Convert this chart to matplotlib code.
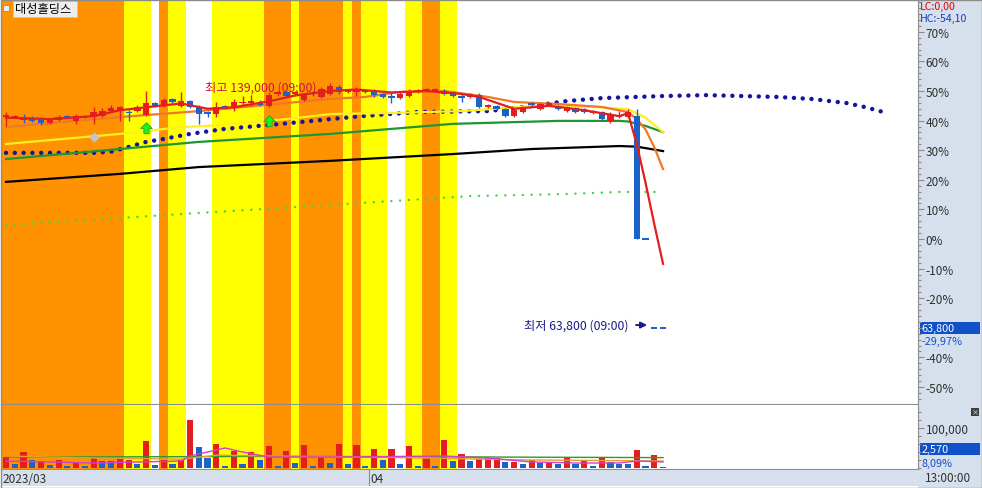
import numpy as np
import matplotlib
matplotlib.use("Agg")
import matplotlib.pyplot as plt
from matplotlib.patches import Rectangle
from matplotlib.ticker import MultipleLocator
from matplotlib.transforms import blended_transform_factory

plt.rcParams['font.family'] = ['Noto Sans CJK KR', 'DejaVu Sans']

# ---- data (percent vs. base price 91,100) ----
stock_name = "대성홀딩스"
high_price, high_idx = 139000, 37
low_price, low_idx = 63800, 74
low_pct = -29.97

c_open = [41.2, 41.2, 41.2, 40.9, 40.5, 39.2, 40.2, 41.4, 39.9, 41.6,
          41.2, 41.6, 43.2, 43.2, 42.9, 43.2, 41.9, 45.9, 44.9, 47.3,
          44.9, 46.6, 44.6, 42.7, 42.2, 44.8, 44.6, 45.9, 46.1, 46.3,
          44.9, 49.2, 49.7, 49.2, 47.0, 49.3, 48.0, 49.0, 51.4, 49.8,
          49.8, 50.0, 50.0, 49.0, 48.1, 47.6, 48.3, 49.8, 50.2, 50.2,
          50.0, 49.7, 48.1, 48.0, 48.6, 44.8, 44.9, 43.9, 41.6, 42.9,
          45.8, 43.9, 45.5, 44.9, 43.2, 44.3, 43.9, 42.7, 42.9, 39.9,
          41.4, 41.2, 41.6, 0.0, -29.97, -29.97]
c_close = [41.9, 41.6, 40.2, 39.9, 39.2, 40.5, 41.2, 41.0, 41.6, 41.2,
           42.9, 43.2, 44.4, 44.6, 42.6, 44.6, 45.9, 44.9, 47.0, 46.3,
           46.6, 44.6, 42.2, 42.4, 44.6, 44.4, 46.3, 46.3, 46.5, 45.3,
           48.6, 49.5, 48.3, 49.5, 48.6, 49.0, 50.7, 51.7, 49.7, 50.2,
           50.2, 49.7, 48.6, 48.0, 47.8, 49.0, 50.0, 50.2, 50.5, 50.5,
           49.0, 48.3, 47.8, 49.0, 44.6, 45.1, 43.9, 41.6, 43.6, 44.6,
           45.4, 45.6, 45.8, 43.9, 44.6, 42.9, 42.9, 43.1, 40.5, 42.2,
           41.7, 42.9, 0.0, 0.0, -29.97, -29.97]
c_high = [42.9, 41.9, 42.2, 41.6, 41.2, 40.9, 41.9, 41.9, 42.2, 41.9,
          44.6, 44.3, 45.3, 44.9, 43.6, 45.3, 50.0, 46.3, 47.6, 47.6,
          49.7, 47.0, 45.3, 43.2, 46.3, 45.3, 47.3, 48.3, 48.6, 47.0,
          49.7, 50.0, 50.0, 50.0, 49.3, 50.0, 51.4, 52.6, 52.0, 50.7,
          51.4, 50.3, 50.7, 49.3, 49.3, 49.7, 50.7, 50.7, 51.0, 51.0,
          50.7, 50.0, 49.0, 49.3, 49.3, 45.6, 45.3, 44.3, 43.9, 44.9,
          46.3, 45.9, 46.3, 45.3, 44.9, 44.6, 44.3, 43.6, 43.2, 42.9,
          43.2, 43.9, 43.9, 0.0, -29.97, -29.97]
c_low = [38.2, 40.9, 39.2, 39.5, 38.5, 38.9, 39.9, 40.9, 38.9, 40.9,
         38.9, 41.2, 42.9, 39.9, 39.9, 42.9, 41.6, 44.6, 44.6, 45.9,
         44.6, 44.3, 38.9, 41.2, 41.2, 43.9, 43.2, 44.9, 44.9, 44.9,
         44.6, 48.3, 48.0, 48.3, 46.6, 48.3, 47.6, 48.6, 49.0, 49.3,
         48.3, 49.3, 48.0, 47.6, 45.9, 47.3, 48.0, 49.3, 49.7, 49.7,
         48.6, 48.0, 46.3, 47.6, 44.3, 44.3, 43.6, 41.2, 41.2, 42.6,
         44.6, 43.6, 44.9, 43.6, 42.9, 42.6, 42.6, 42.2, 40.2, 39.2,
         40.9, 40.9, 0.0, 0.0, -29.97, -29.97]

volume = [27500, 10000, 40000, 20000, 17500, 7500, 20000, 5000, 15000, 5000,
          25000, 17500, 17500, 25000, 20000, 10000, 67500, 7500, 20000, 10000,
          20000, 120000, 52500, 25000, 60000, 5000, 42500, 10000, 40000, 20000,
          55000, 5000, 42500, 12500, 57500, 5000, 30000, 12500, 60000, 10000,
          57500, 5000, 47500, 20000, 47500, 10000, 55000, 5000, 25000, 5000,
          70000, 17500, 35000, 17500, 22500, 25000, 25000, 15000, 15000, 10000,
          20000, 12500, 12500, 10000, 25000, 10000, 20000, 5000, 25000, 15000,
          10000, 10000, 45000, 5000, 32500, 2570]
vol_dir = "rbrbrbrbrb" "rbbrrbrbrb" "rrbbrbrbrb" "rbrbrbrbrb" "rbrbrbrbrb" \
          "rbrbrrrbrb" "rbrbrbrbrb" "bbrbrb"

# background signal bands (candle index edges)
band_edges = [-0.5, 13.5, 16.5, 17.5, 18.5, 20.5, 23.5, 29.5, 32.5, 33.5,
              38.5, 39.5, 40.5, 43.5, 45.5, 47.5, 49.5, 51.5]
band_kind = "oywoywyoyoyoywyoy"

# indicator lines (index, percent)
ma_red_x = [0, 5, 10, 13, 16, 20, 23, 26, 30, 33, 37, 40, 44, 48, 52, 54, 56, 58, 62, 66, 70, 71, 72, 73, 74, 75]
ma_red_y = [41.0, 40.5, 41.5, 43.5, 44.5, 45.8, 44.0, 44.5, 46.5, 48.5, 50.0, 50.5, 49.5, 50.0, 49.0, 48.0, 46.0, 44.0, 45.0, 43.5, 41.5, 42.5, 32.0, 19.0, 5.0, -8.4]
ma_orange_x = [0, 13, 22, 37, 41, 45, 50, 55, 58, 63, 68, 71, 72, 73, 74, 75]
ma_orange_y = [37.8, 41.2, 43.2, 47.3, 48.0, 49.7, 50.0, 48.0, 46.3, 45.6, 44.6, 42.9, 40.5, 37.0, 31.0, 23.6]
ma_yellow_x = [0, 13, 20, 23, 32, 37, 44, 52, 60, 67, 71, 73, 75]
ma_yellow_y = [32.1, 35.5, 37.8, 38.2, 40.5, 42.2, 42.6, 43.2, 44.9, 44.6, 43.9, 41.0, 36.1]
ma_green_x = [0, 13, 22, 37, 51, 63, 70, 71, 73, 75]
ma_green_y = [27.0, 30.4, 32.8, 35.5, 38.9, 39.9, 39.9, 39.7, 38.2, 36.1]
ma_black_x = [0, 13, 22, 37, 51, 60, 70, 72, 75]
ma_black_y = [19.3, 22.0, 24.3, 26.4, 28.7, 30.4, 31.4, 31.2, 29.7]
span_x = [0, 10, 12, 14, 16, 18, 21, 25, 30, 35, 37, 41, 47, 55, 60, 64, 68, 72, 75, 80, 88, 92, 96, 98, 100]
span_y = [29.1, 29.1, 29.5, 31.1, 32.8, 33.8, 35.5, 37.2, 38.5, 39.9, 40.5, 41.6, 42.9, 43.2, 44.9, 46.6, 47.6, 48.0, 48.3, 48.6, 48.0, 47.3, 45.9, 44.6, 43.0]
lag_x = [0, 13, 22, 37, 53, 64, 70, 75]
lag_y = [4.7, 7.1, 8.8, 11.5, 14.5, 15.2, 15.9, 15.9]

gray_sig_x, gray_sig_y = [10], [34.5]
buy_sig_x, buy_sig_y = [16, 30], [37.5, 39.9]

vma_green_x = [0, 15, 30, 45, 60, 75]
vma_green_y = [27500, 28000, 29000, 28500, 27000, 26000]
vma_orange_x = [0, 10, 20, 24, 30, 45, 60, 75]
vma_orange_y = [30000, 25000, 22000, 32000, 30000, 26000, 20000, 17500]
vma_mag_x = [0, 5, 10, 15, 20, 21, 23, 25, 27, 30, 40, 50, 55, 60, 65, 70, 72, 75]
vma_mag_y = [17500, 15000, 12500, 15000, 17500, 30000, 40000, 50000, 40000, 27500, 27500, 30000, 25000, 15000, 12500, 12500, 17500, 15000]

# ---- style ----
RED, BLUE = '#E41E1E', '#1C62C8'
ORANGE_BG, YELLOW_BG = '#FF9200', '#FFFF00'
PANEL = '#D6E0EC'
GRID = '#8C8C8C'
W, H = 982, 489


def rect(x0, y0, x1, y1):
    return [x0 / W, 1 - y1 / H, (x1 - x0) / W, (y1 - y0) / H]


fig = plt.figure(figsize=(W / 100, H / 100), dpi=100)
fig.add_artist(Rectangle((918 / W, 0), 64 / W, 1, transform=fig.transFigure,
                         facecolor=PANEL, edgecolor='none', zorder=0))

ax = fig.add_axes(rect(2, 1, 918, 405))
axv = fig.add_axes(rect(2, 406, 918, 470), sharex=ax)
axd = fig.add_axes(rect(2, 471, 918, 487), sharex=ax)

ax.set_xlim(-0.457, 104.1)
ax.set_ylim(-55.74, 80.74)
axv.set_ylim(-2500, 157500)

for a in (ax, axv):
    for e0, e1, k in zip(band_edges[:-1], band_edges[1:], band_kind):
        if k != 'w':
            a.axvspan(e0, e1, color=ORANGE_BG if k == 'o' else YELLOW_BG, lw=0, zorder=0)

# candles
idx = np.arange(len(c_close))
o, c = np.array(c_open), np.array(c_close)
prev = np.concatenate([[c[0]], c[:-1]])
cols = [RED if (ci > oi or (ci == oi and ci > pi)) else BLUE for oi, ci, pi in zip(o, c, prev)]
body_h = np.maximum(np.abs(c - o), 0.6)
body_b = np.where(np.abs(c - o) < 0.6, (o + c) / 2 - 0.3, np.minimum(o, c))
ax.vlines(idx, c_low, c_high, colors=cols, lw=1, zorder=4)
ax.bar(idx, body_h, bottom=body_b, width=0.72, color=cols, lw=0, zorder=5)

# indicator lines
ax.plot(lag_x, lag_y, color='#44D444', lw=1.8, ls=(0, (0.01, 3.5)), dash_capstyle='round', zorder=2)
ax.plot(span_x, span_y, color='#14149E', lw=3.2, ls=(0, (0.01, 1.97)), dash_capstyle='round', zorder=3)
ax.plot(ma_black_x, ma_black_y, color='black', lw=1.6, zorder=3)
ax.plot(ma_green_x, ma_green_y, color='#1E9632', lw=1.6, zorder=3)
ax.plot(ma_yellow_x, ma_yellow_y, color='#FFF020', lw=1.6, zorder=3)
ax.plot(ma_orange_x, ma_orange_y, color='#F07828', lw=1.6, zorder=3)
ax.plot(ma_red_x, ma_red_y, color=RED, lw=1.6, zorder=6)

arrow = [(0, 1), (-1, 0), (-0.45, 0), (-0.45, -0.9), (0.45, -0.9), (0.45, 0), (1, 0), (0, 1)]
ax.scatter(buy_sig_x, buy_sig_y, marker=arrow, s=70, color='#22EE22', edgecolor='#10A010', lw=0.5, zorder=6)
ax.scatter(gray_sig_x, gray_sig_y, marker='D', s=28, color='#C4C4C4', lw=0, zorder=6)

# high / low notes
ax.text(high_idx - 14.3, c_high[high_idx] - 1.25, f"최고 {high_price:,} (09:00)",
        color='#D0103A', fontsize=8.8, va='center', ha='left', zorder=7)
ax.text(71.0, low_pct + 0.9, f"최저 {low_price:,} (09:00)", color='#1A1A8C',
        fontsize=8.8, va='center', ha='right', zorder=7)
ax.annotate('', xy=(73.5, low_pct + 0.9), xytext=(71.6, low_pct + 0.9),
            arrowprops=dict(arrowstyle='-|>', color='#1A1A8C', lw=1.4, mutation_scale=9), zorder=7)

# price scale (the -30% label sits under the current-price box, so it is left blank)
ax.yaxis.tick_right()
pct_ticks = list(range(-50, 71, 10))
ax.set_yticks(pct_ticks)
ax.set_yticklabels(["" if t == -30 else f"{t}%" for t in pct_ticks])
ax.yaxis.set_minor_locator(MultipleLocator(2))
ax.tick_params(axis='y', which='major', direction='out', length=4, width=0.8, color=GRID,
               labelsize=8.5, labelcolor='#303030', pad=1.5)
ax.tick_params(axis='y', which='minor', direction='out', length=2, width=0.8, color=GRID)
ax.tick_params(axis='x', which='both', bottom=False, labelbottom=False)
for s in ('top', 'left'):
    ax.spines[s].set_visible(False)
ax.spines['right'].set_color(GRID)
ax.spines['bottom'].set_color(GRID)

tr = blended_transform_factory(ax.transAxes, ax.transData)
ax.add_patch(Rectangle((1.002, low_pct - 2.0), 0.0655, 4.0, transform=tr, facecolor='#1050C8',
                       edgecolor='none', clip_on=False))
ax.text(1.004, low_pct, f"{low_price:,}", transform=tr, color='white', fontsize=7.8, va='center')
ax.text(1.004, low_pct - 4.5, "-29,97%", transform=tr, color='#1050C8', fontsize=7.8, va='center')

# volume panel
vcols = [RED if d == 'r' else BLUE for d in vol_dir]
axv.bar(idx, volume, width=0.7, color=vcols, lw=0, zorder=3)
axv.plot(vma_green_x, vma_green_y, color='#2E9A2E', lw=1, zorder=4)
axv.plot(vma_orange_x, vma_orange_y, color='#E8A020', lw=1, zorder=4)
axv.plot(vma_mag_x, vma_mag_y, color='#D040D0', lw=1, zorder=4)
axv.yaxis.tick_right()
axv.set_yticks([100000])
axv.set_yticklabels(["100,000"])
axv.yaxis.set_minor_locator(MultipleLocator(20000))
axv.tick_params(axis='y', which='major', direction='out', length=4, width=0.8, color=GRID,
                labelsize=8.5, labelcolor='#303030', pad=1.5)
axv.tick_params(axis='y', which='minor', direction='out', length=2, width=0.8, color=GRID)
axv.tick_params(axis='x', which='both', bottom=False, labelbottom=False)
for s in ('top', 'left'):
    axv.spines[s].set_visible(False)
axv.spines['right'].set_color(GRID)
axv.spines['bottom'].set_color(GRID)
axv.add_patch(Rectangle((1.002, 0.22), 0.0655, 0.19, transform=axv.transAxes, facecolor='#1050C8',
                        edgecolor='none', clip_on=False))
axv.text(1.004, 0.315, f"{volume[-1]:,}", transform=axv.transAxes, color='white', fontsize=7.8, va='center')
axv.text(1.004, 0.1, "8,09%", transform=axv.transAxes, color='#1050C8', fontsize=7.8, va='center')
axv.add_patch(Rectangle((1.058, 0.83), 0.009, 0.13, transform=axv.transAxes, facecolor='#404040',
                        edgecolor='none', clip_on=False))
axv.text(1.0625, 0.895, "×", transform=axv.transAxes, color='white', fontsize=5, ha='center', va='center')

# date strip
axd.set_facecolor(PANEL)
axd.set_yticks([])
axd.tick_params(axis='x', which='both', bottom=False, labelbottom=False)
for s in axd.spines.values():
    s.set_visible(False)
axd.text(0.001, 0.45, "2023/03", transform=axd.transAxes, fontsize=8.5, color='#303030', va='center')
axd.axvline(41.4, color=GRID, lw=0.8)
axd.text(41.6, 0.45, "04", transform=blended_transform_factory(axd.transData, axd.transAxes),
         fontsize=8.5, color='#303030', va='center')
fig.text(925 / W, 1 - 479 / H, "13:00:00", fontsize=8.5, color='#303030', va='center')

# header texts
fig.text(920 / W, 1 - 6.5 / H, "LC:0,00", color='#E00000', fontsize=7.6, va='center')
fig.text(920 / W, 1 - 18.5 / H, "HC:-54,10", color='#1040C0', fontsize=7.6, va='center')
fig.add_artist(Rectangle((13 / W, 1 - 18 / H), 64 / W, 16 / H, transform=fig.transFigure,
                         facecolor='#EDEDED', edgecolor='#C8C8C8', lw=0.6, zorder=10))
fig.add_artist(Rectangle((3 / W, 1 - 12 / H), 6 / W, 6 / H, transform=fig.transFigure,
                         facecolor='#E8EEF8', edgecolor='#8090A0', lw=0.6, zorder=10))
fig.text(15 / W, 1 - 10 / H, stock_name, fontsize=8.8, color='black', va='center', zorder=11)

# outer frame
fig.add_artist(Rectangle((0.5 / W, 0.5 / H), 1 - 1 / W, 1 - 1 / H, transform=fig.transFigure,
                         facecolor='none', edgecolor=GRID, lw=1, zorder=12))

fig.savefig("out.png", dpi=100)
